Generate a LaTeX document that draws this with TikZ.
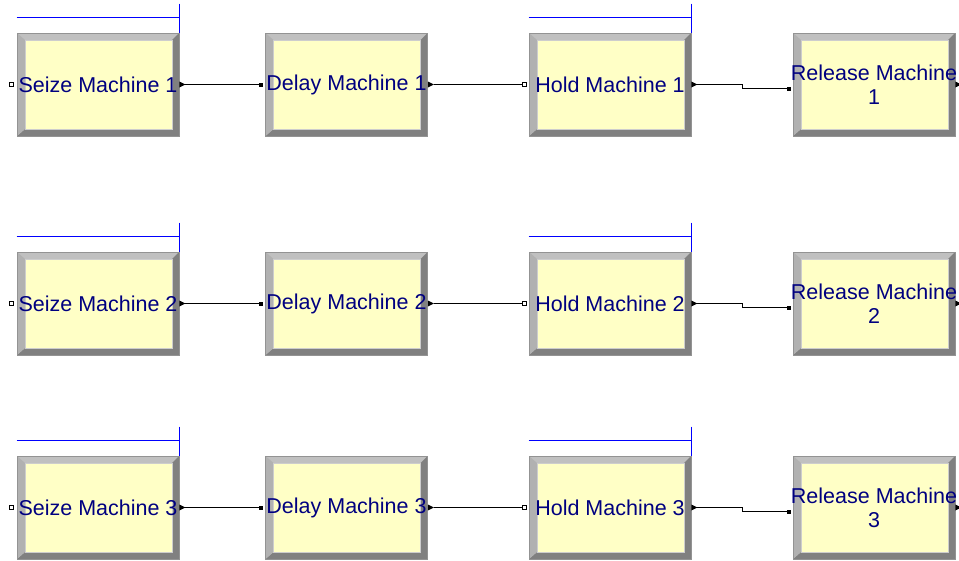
\documentclass[tikz,border=0pt]{standalone}
\usepackage{fontspec}
\setmainfont{Liberation Sans}
\usetikzlibrary{calc}

\definecolor{modfill}{RGB}{255,255,198}
\definecolor{bevlight}{RGB}{192,192,192}
\definecolor{bevdark}{RGB}{128,128,128}
\definecolor{labelblue}{RGB}{0,0,128}
\definecolor{queueblue}{RGB}{0,0,255}

\tikzset{
  module/.style={
    rectangle, minimum width=162pt, minimum height=103pt, inner sep=0pt,
    fill=bevlight, draw=bevdark!85, line width=0.6pt,
    text=labelblue, font=\fontsize{21.5pt}{24pt}\selectfont, align=center,
    path picture={
      \coordinate (ppsw) at (path picture bounding box.south west);
      \coordinate (ppne) at (path picture bounding box.north east);
      \fill[bevdark] (ppsw) -- (ppsw -| ppne) -- (ppne)
        -- ($(ppne)+(-7pt,-7pt)$) -- ($(ppsw -| ppne)+(-7pt,7pt)$)
        -- ($(ppsw)+(8pt,7pt)$) -- cycle;
      \fill[bevlight!92!black] (ppsw) -- ($(ppsw)+(8pt,7pt)$)
        -- ($(ppsw |- ppne)+(8pt,-7pt)$) -- (ppsw |- ppne) -- cycle;
      \filldraw[fill=modfill, draw=bevlight!80, line width=0.4pt]
        ($(ppsw)+(8pt,7pt)$) rectangle ($(ppne)+(-7pt,-7pt)$);
    }
  },
  flow/.style={draw=black, line width=0.7pt},
  queueline/.style={draw=queueblue, line width=0.7pt},
  openport/.style={fill=white, draw=black, line width=0.5pt},
  solidport/.style={fill=black}
}

\begin{document}
\begin{tikzpicture}[x=1pt,y=-1pt]
\useasboundingbox (0,0) rectangle (959,560);

\foreach \r/\cy in {1/84.5,2/303.5,3/507.5}{
  % modules of this row
  \node[module] (s\r) at (98,\cy)    {Seize Machine \r};
  \node[module] (d\r) at (346.5,\cy) {Delay Machine \r};
  \node[module] (h\r) at (610,\cy)   {Hold Machine \r};
  \node[module] (r\r) at (874,\cy)   {\makebox[150pt]{Release Machine}\\\r};

  % ports
  \coordinate (sin\r)  at ([xshift=-5pt]s\r.west);
  \coordinate (din\r)  at ([xshift=-4pt]d\r.west);
  \coordinate (hin\r)  at ([xshift=-4.5pt]h\r.west);
  \coordinate (rin\r)  at ([xshift=-4pt,yshift=-4pt]r\r.west);
  \coordinate (sout\r) at ([xshift=6pt]s\r.east);
  \coordinate (dout\r) at ([xshift=6pt]d\r.east);
  \coordinate (hout\r) at ([xshift=6pt]h\r.east);

  % connectors
  \draw[flow] (sout\r) -- (din\r);
  \draw[flow] (dout\r) -- (hin\r);
  \draw[flow] (hout\r) -- ++(45,0) |- (rin\r);

  % exit arrows
  \foreach \m in {s,d,h,r}{
    \fill ([yshift=3pt]\m\r.east) -- ([xshift=6pt]\m\r.east)
      -- ([yshift=-3pt]\m\r.east) -- cycle;
  }

  % entry points
  \filldraw[openport] ($(sin\r)+(-2pt,-2pt)$) rectangle ($(sin\r)+(2pt,2pt)$);
  \filldraw[openport] ($(hin\r)+(-2pt,-2pt)$) rectangle ($(hin\r)+(2pt,2pt)$);
  \fill[solidport] ($(din\r)+(-2pt,-2pt)$) rectangle ($(din\r)+(2pt,2pt)$);
  \fill[solidport] ($(rin\r)+(-2pt,-2pt)$) rectangle ($(rin\r)+(2pt,2pt)$);

  % queue lines above Seize and Hold
  \foreach \m in {s,h}{
    \draw[queueline] ([yshift=15pt]\m\r.north west) -- ([yshift=15pt]\m\r.north east);
    \draw[queueline] ([yshift=29pt]\m\r.north east) -- (\m\r.north east);
  }
}
\end{tikzpicture}
\end{document}
